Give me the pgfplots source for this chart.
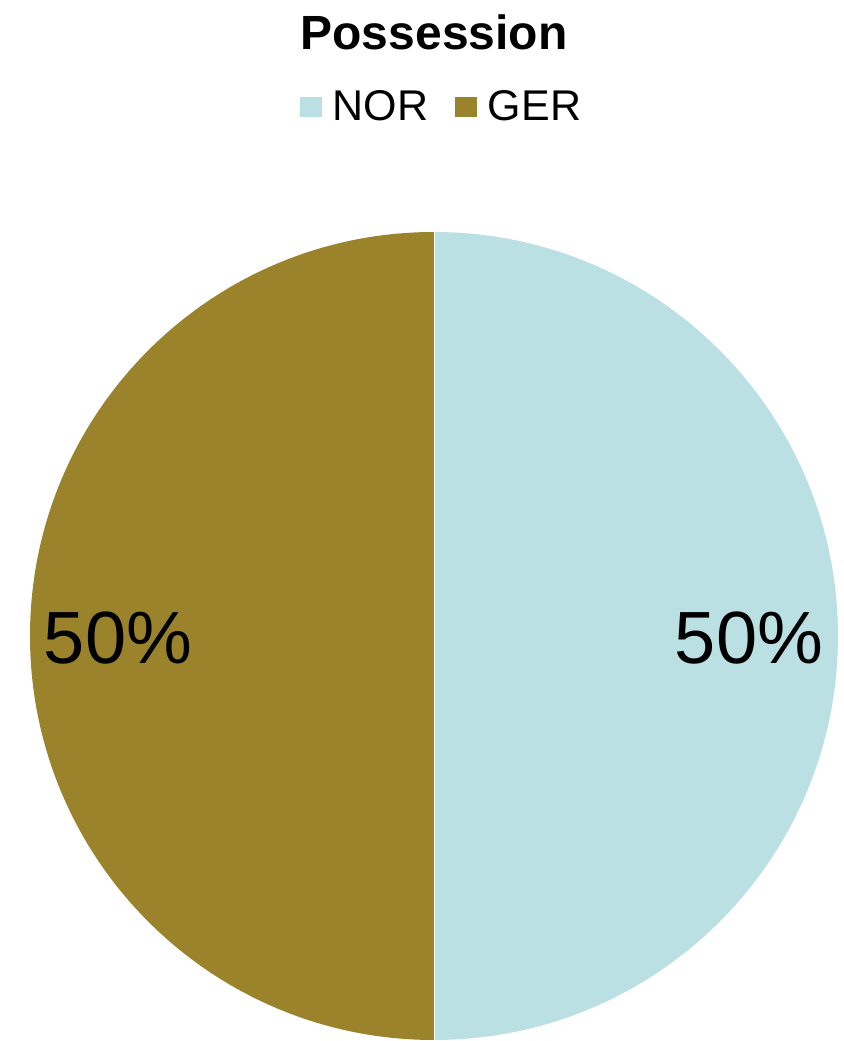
\documentclass[border=0pt]{standalone}
\usepackage{fontspec}
\setmainfont{Liberation Sans}
\usepackage{pgfplots}
\usepackage{pgfplotstable}
\pgfplotsset{compat=1.18}
\usetikzlibrary{calc}
\definecolor{norcol}{HTML}{BBE0E3}
\definecolor{gercol}{HTML}{9A832A}
\newcommand\legfont{\fontsize{21.5}{25}\selectfont}
\pgfplotstableread{
team value
NOR 50
GER 50
}\possession
\begin{document}%
\begin{tikzpicture}
\pgfplotstablegetelem{0}{value}\of\possession \let\vA\pgfplotsretval
\pgfplotstablegetelem{1}{value}\of\possession \let\vB\pgfplotsretval
\pgfmathsetmacro{\tot}{\vA+\vB}
\pgfmathsetmacro{\fA}{\vA/\tot}
\pgfmathsetmacro{\fB}{\vB/\tot}
\pgfmathsetmacro{\sA}{90}
\pgfmathsetmacro{\eA}{90-360*\fA}
\pgfmathsetmacro{\eB}{\eA-360*\fB}
\pgfmathsetmacro{\mA}{(\sA+\eA)/2}
\pgfmathsetmacro{\mB}{(\eA+\eB)/2}
\pgfmathtruncatemacro{\pA}{round(100*\fA)}
\pgfmathtruncatemacro{\pB}{round(100*\fB)}
\begin{axis}[
  scale only axis, width=422pt, height=520.5pt,
  xmin=0, xmax=844, ymin=0, ymax=1041,
  hide axis, clip=false,
  legend columns=2,
  legend style={draw=none, fill=none, at={(axis cs:446,934)}, anchor=center,
    inner sep=0pt,
    /tikz/every even column/.append style={column sep=8pt},
    nodes={inner xsep=5.5pt}},
  legend image code/.code={\fill[#1] (0pt,-4.5pt) rectangle (10.5pt,5pt);},
]
\path (axis cs:0,0) rectangle (axis cs:844,1041);
\addlegendimage{norcol}
\addlegendentry{\legfont NOR}
\addlegendimage{gercol}
\addlegendentry{\legfont GER}
\fill[norcol] (axis cs:434,405) -- ++(\sA:202pt) arc[start angle=\sA, end angle=\eA, radius=202pt] -- cycle;
\fill[gercol] (axis cs:434,405) -- ++(\eA:202pt) arc[start angle=\eA, end angle=\eB, radius=202pt] -- cycle;
\draw[white, line width=0.5pt] (axis cs:434,405) -- ++(\sA:202pt);
\draw[white, line width=0.5pt] (axis cs:434,405) -- ++(\eA:202pt);
\node[font=\fontsize{37}{44}\selectfont, inner sep=0pt] at ($(axis cs:434,403)+(\mA:157.5pt)$) {\pA\%};
\node[font=\fontsize{37}{44}\selectfont, inner sep=0pt] at ($(axis cs:434,403)+(\mB:158pt)$) {\pB\%};
\node[font=\bfseries\fontsize{24}{28}\selectfont] at (axis cs:434,1009) {Possession};
\end{axis}
\end{tikzpicture}%
\end{document}
